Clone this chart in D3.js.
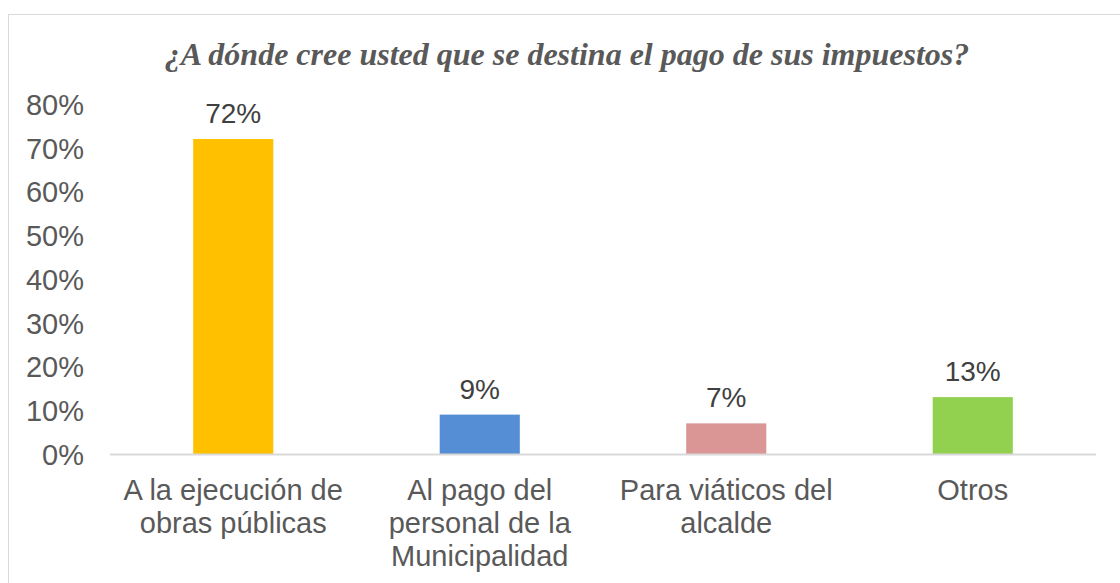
<!doctype html>
<html>
<head>
<meta charset="UTF-8">
<title>impuestos</title>
<script src="https://d3js.org/d3.v7.min.js"></script>
<style>
  body { margin: 0; background: #fff; }
  text { font-family: "Liberation Sans", Arial, sans-serif; }
</style>
</head>
<body>
<svg id="chart" width="1120" height="583"></svg>
<script>
// datos del gráfico
var titulo = "¿A dónde cree usted que se destina el pago de sus impuestos?";
var categorias = ["A la ejecución de obras públicas",
                  "Al pago del personal de la Municipalidad",
                  "Para viáticos del alcalde",
                  "Otros"];
var valores = [0.72, 0.09, 0.07, 0.13];
var colores = ["#FFC000", "#558ED5", "#D99694", "#92D050"];
var ticks = [0, 0.1, 0.2, 0.3, 0.4, 0.5, 0.6, 0.7, 0.8];

var W = 1120, H = 583;
var m = {left: 110, right: 24, top: 104, bottom: 129};

var svg = d3.select("#chart");

// marco del gráfico (se sale por la derecha y abajo)
svg.append("rect")
   .attr("x", 8.5).attr("y", 14.5)
   .attr("width", 1300).attr("height", 800)
   .attr("fill", "none").attr("stroke", "#D9D9D9").attr("stroke-width", 1);

svg.append("text")
   .attr("x", 567).attr("y", 65)
   .attr("text-anchor", "middle")
   .style("font-family", "'Liberation Serif', 'Times New Roman', serif")
   .style("font-style", "italic").style("font-weight", "bold")
   .style("font-size", "32px")
   .attr("fill", "#595959")
   .text(titulo);

var x = d3.scaleBand()
    .domain(categorias)
    .range([m.left, W - m.right])
    .paddingInner(0.675).paddingOuter(0.3375);

var y = d3.scaleLinear()
    .domain([0, 0.8])
    .range([H - m.bottom, m.top]);

var g = svg.append("g");

// eje y (solo etiquetas)
var yAxis = g.append("g")
    .attr("transform", "translate(" + 84 + ",0)")
    .call(d3.axisLeft(y).tickValues(ticks).tickFormat(d3.format(".0%")).tickSize(0).tickPadding(0));
yAxis.select(".domain").remove();
yAxis.selectAll("text")
    .style("font-family", "'Liberation Sans', Arial, sans-serif")
    .style("font-size", "29px")
    .attr("fill", "#595959")
    .attr("dy", "0.36em");

// barras
g.selectAll("rect.barra")
  .data(valores)
  .enter().append("rect")
  .attr("class", "barra")
  .attr("x", function(d, i){ return x(categorias[i]); })
  .attr("y", function(d){ return y(d); })
  .attr("width", x.bandwidth())
  .attr("height", function(d){ return y(0) - y(d); })
  .attr("fill", function(d, i){ return colores[i]; });

// línea base
g.append("line")
  .attr("x1", m.left).attr("x2", W - m.right)
  .attr("y1", y(0) + 0.5).attr("y2", y(0) + 0.5)
  .attr("stroke", "#D9D9D9").attr("stroke-width", 2);

// etiquetas de datos
g.selectAll("text.valor")
  .data(valores)
  .enter().append("text")
  .attr("class", "valor")
  .attr("x", function(d, i){ return x(categorias[i]) + x.bandwidth() / 2; })
  .attr("y", function(d){ return y(d) - 16; })
  .attr("text-anchor", "middle")
  .style("font-size", "28px")
  .attr("fill", "#404040")
  .text(function(d){ return d3.format(".0%")(d); });

// etiquetas de categoría con ajuste de línea
var anchoMax = x.step() - 6;
categorias.forEach(function(c, i){
  var t = g.append("text")
    .attr("x", x(c) + x.bandwidth() / 2)
    .attr("y", 500)
    .attr("text-anchor", "middle")
    .style("font-size", "29px")
    .attr("fill", "#595959");
  var palabras = c.split(" "), linea = [];
  var ts = t.append("tspan").attr("x", x(c) + x.bandwidth() / 2).attr("dy", 0);
  palabras.forEach(function(p){
    linea.push(p);
    ts.text(linea.join(" "));
    if (ts.node().getComputedTextLength() > anchoMax && linea.length > 1) {
      linea.pop();
      ts.text(linea.join(" "));
      linea = [p];
      ts = t.append("tspan").attr("x", x(c) + x.bandwidth() / 2).attr("dy", 33).text(p);
    }
  });
});
</script>
</body>
</html>
